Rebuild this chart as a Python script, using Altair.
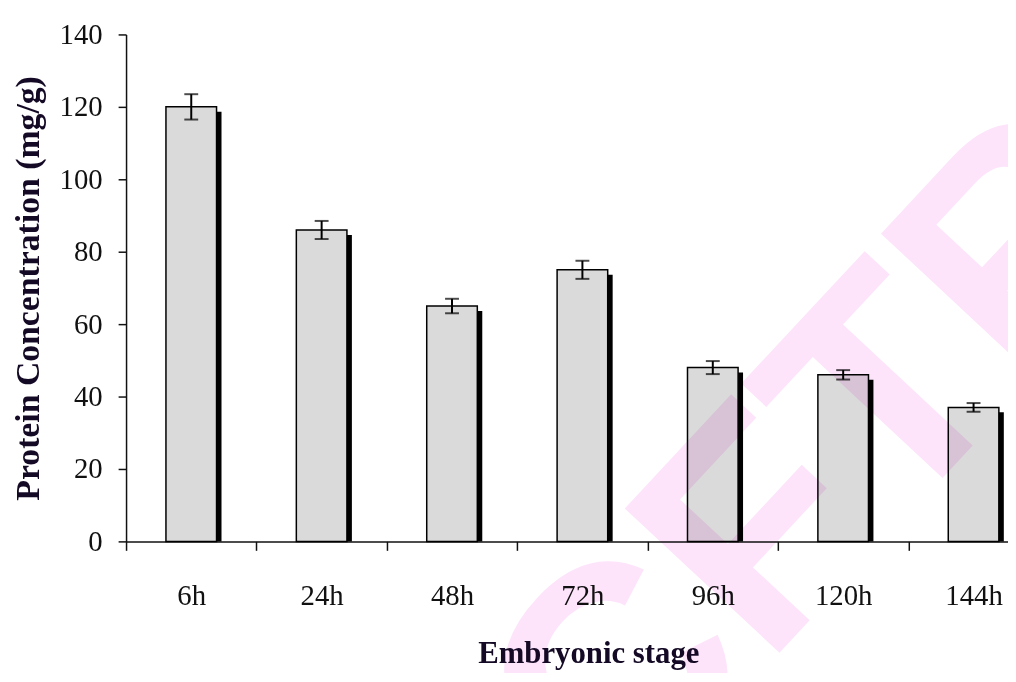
import altair as alt
import pandas as pd

stages = ["6h", "24h", "48h", "72h", "96h", "120h", "144h"]
protein = [120, 86, 65, 75, 48, 46, 37]
errors = [3.5, 2.5, 2.0, 2.5, 1.8, 1.3, 1.2]

df = pd.DataFrame({"stage": stages, "value": protein, "err": errors})
df["lo"] = df["value"] - df["err"]
df["hi"] = df["value"] + df["err"]

FONT = "Liberation Serif"
INK = "#111111"

x_enc = alt.X(
    "stage:N",
    sort=stages,
    scale=alt.Scale(range=[0, 920], paddingInner=0, paddingOuter=0),
    axis=alt.Axis(
        title="Embryonic stage",
        labelAngle=0,
        labelFont=FONT,
        labelFontSize=29,
        labelColor=INK,
        labelPadding=32,
        tickSize=9,
        tickBand="extent",
        tickColor=INK,
        tickWidth=1.5,
        domainColor=INK,
        domainWidth=1.5,
        titleFont=FONT,
        titleFontSize=31,
        titleFontWeight="bold",
        titleColor="#150a25",
        titlePadding=28,
        titleX=466,
        grid=False,
    ),
)

y_scale = alt.Scale(domain=[0, 140], nice=False)
y_axis = alt.Axis(
    title="Protein Concentration (mg/g)",
    values=[0, 20, 40, 60, 80, 100, 120, 140],
    labelFont=FONT,
    labelFontSize=29,
    labelColor=INK,
    labelPadding=16,
    tickSize=8,
    tickColor=INK,
    tickWidth=1.5,
    domainColor=INK,
    domainWidth=1.5,
    titleFont=FONT,
    titleFontSize=34,
    titleFontWeight="bold",
    titleColor="#150a25",
    titlePadding=14,
    grid=False,
)

base = alt.Chart(df)

shadow = base.mark_bar(
    size=51, color="#000000", xOffset=5, yOffset=5, clip=True
).encode(
    x=x_enc,
    y=alt.Y("value:Q", scale=y_scale, axis=y_axis),
)

bars = base.mark_bar(
    size=51, color="#dadada", stroke="#000000", strokeWidth=1.5
).encode(x=alt.X("stage:N", sort=stages), y="value:Q")

err_rule = base.mark_rule(color="#000000", strokeWidth=2).encode(
    x=alt.X("stage:N", sort=stages), y="lo:Q", y2="hi:Q"
)
cap_hi = base.mark_tick(color="#000000", size=14, thickness=2, orient="horizontal").encode(
    x=alt.X("stage:N", sort=stages), y="hi:Q"
)
cap_lo = base.mark_tick(color="#000000", size=14, thickness=2, orient="horizontal").encode(
    x=alt.X("stage:N", sort=stages), y="lo:Q"
)

watermark = alt.Chart(pd.DataFrame({"t": ["CFTRI"]})).mark_text(
    font="Liberation Sans",
    fontSize=310,
    fontWeight="bold",
    color="#fde4fb",
    angle=313,
    align="center",
    baseline="middle",
    blend="multiply",
).encode(text="t:N", x=alt.value(735), y=alt.value(405))

chart = (
    alt.layer(shadow, bars, err_rule, cap_hi, cap_lo, watermark)
    .properties(
        width=889,
        height=511,
        autosize=alt.AutoSizeParams(type="none"),
        padding={"left": 119, "top": 24, "right": 0, "bottom": 130},
        background="white",
    )
    .configure_view(stroke=None)
)

chart.save("out.html", embed_options={"renderer": "svg", "actions": False})
